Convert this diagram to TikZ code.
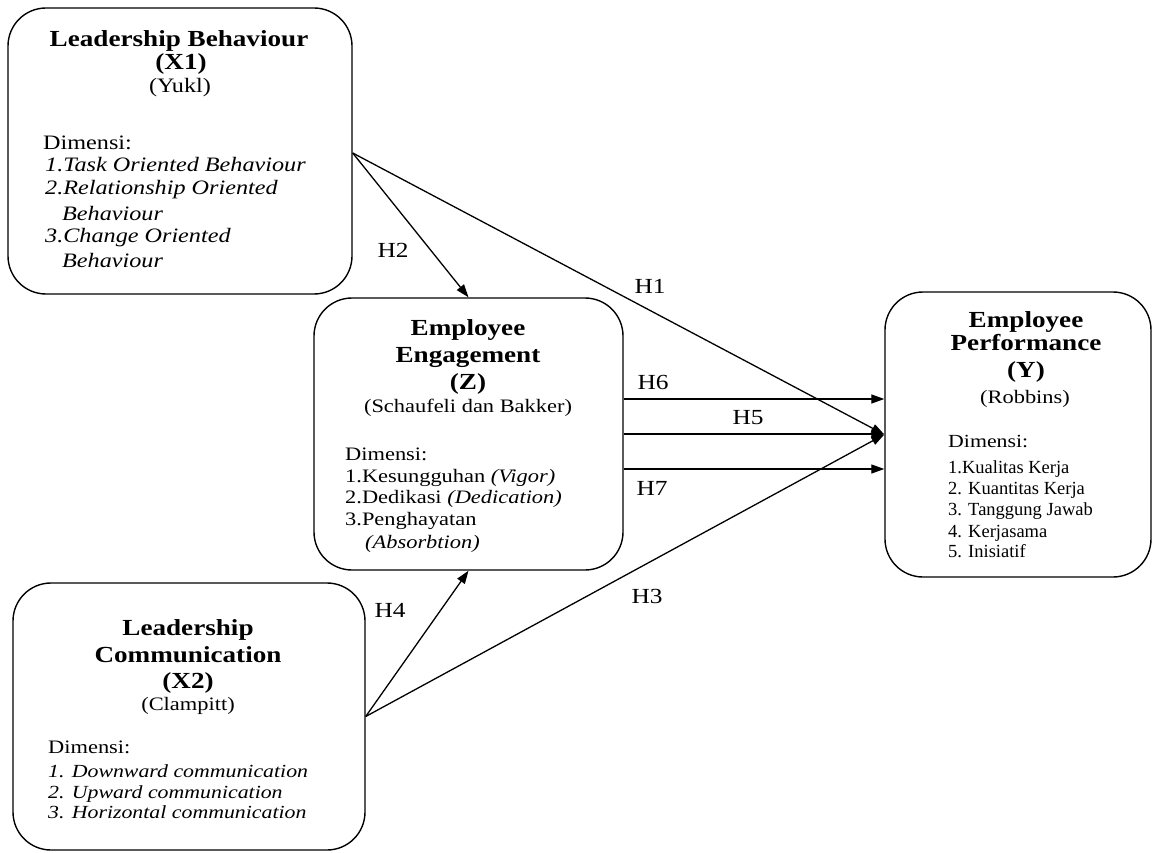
\documentclass[tikz,border=0pt]{standalone}
\usepackage{fontspec}
\setmainfont{Liberation Serif}[FakeStretch=1.18]
\newfontfamily\plainserif{Liberation Serif}
\usetikzlibrary{arrows.meta,calc}

\begin{document}
\begin{tikzpicture}[x=1pt,y=-1pt,
  box/.style={draw, line width=1.4pt, rounded corners=38pt, inner sep=0pt},
  ttl/.style={anchor=base, inner sep=0pt, font=\fontsize{23}{27}\selectfont\bfseries},
  sub/.style={anchor=base, inner sep=0pt, font=\fontsize{19}{23}\selectfont},
  itm/.style={anchor=base west, inner sep=0pt, font=\fontsize{19}{23}\selectfont},
  big/.style={font=\fontsize{20.5}{24}\selectfont},
  small/.style={font=\fontsize{18.5}{22}\selectfont},
  narrow/.style={font=\plainserif\fontsize{18.5}{22}\selectfont},
  hyp/.style={anchor=base, inner sep=0pt, font=\fontsize{21.5}{25}\selectfont},
  link/.style={line width=1.3pt, -{Triangle[length=13pt,width=9pt]}}
]
\useasboundingbox (0,0) rectangle (1154,853);

% ---------- boxes ----------
\node[box, minimum width=344pt, minimum height=286pt] (x1) at (180,151) {};
\node[box, minimum width=309pt, minimum height=272pt] (z)  at (468.5,434) {};
\node[box, minimum width=266pt, minimum height=285pt] (y)  at (1018,434.5) {};
\node[box, minimum width=352pt, minimum height=267pt] (x2) at (189,716.5) {};

% ---------- Leadership Behaviour (X1) ----------
\node[ttl] (x1a) at (179,47) {Leadership Behaviour};
\node[ttl] (x1b) at (181,70) {(X1)};
\node[sub, big] (x1c) at (180,93) {(Yukl)};
\node[itm, big] (x1d) at (43,150) {Dimensi:};
\node[itm, big] (x1e) at (45,172) {\itshape 1.Task Oriented Behaviour};
\node[itm, big] (x1f) at (45,195) {\itshape 2.Relationship Oriented};
\node[itm, big] (x1g) at (62,221) {\itshape Behaviour};
\node[itm, big] (x1h) at (45,243) {\itshape 3.Change Oriented};
\node[itm, big] (x1i) at (62,267) {\itshape Behaviour};

% ---------- Employee Engagement (Z) ----------
\node[ttl] (za) at (468,335) {Employee};
\node[ttl] (zb) at (468,362) {Engagement};
\node[ttl] (zc) at (468,389) {(Z)};
\node[sub] (zd) at (468,412) {(Schaufeli dan Bakker)};
\node[itm] (ze) at (345,460) {Dimensi:};
\node[itm] (zf) at (345,482) {1.Kesungguhan \textit{(Vigor)}};
\node[itm] (zg) at (345,503) {2.Dedikasi \textit{(Dedication)}};
\node[itm] (zh) at (345,525) {3.Penghayatan};
\node[itm] (zi) at (365,548) {\itshape (Absorbtion)};

% ---------- Employee Performance (Y) ----------
\node[ttl] (ya) at (1026,327) {Employee};
\node[ttl] (yb) at (1026,350) {Performance};
\node[ttl] (yc) at (1026,377) {(Y)};
\node[sub] (yd) at (1025,403) {(Robbins)};
\node[itm, small] (ye) at (948,447) {Dimensi:};
\node[itm, narrow] (yf) at (948,473) {1.Kualitas Kerja};
\node[itm, narrow] (yg) at (948,494) {2. Kuantitas Kerja};
\node[itm, narrow] (yh) at (948,515) {3. Tanggung Jawab};
\node[itm, narrow] (yi) at (948,537) {4. Kerjasama};
\node[itm, narrow] (yj) at (948,557) {5. Inisiatif};

% ---------- Leadership Communication (X2) ----------
\node[ttl] (x2a) at (188,635) {Leadership};
\node[ttl] (x2b) at (188,662) {Communication};
\node[ttl] (x2c) at (188,688) {(X2)};
\node[sub] (x2d) at (188,710) {(Clampitt)};
\node[itm] (x2e) at (48,753) {Dimensi:};
\node[itm, small] (x2f) at (48,777) {\itshape 1. Downward communication};
\node[itm, small] (x2g) at (48,798) {\itshape 2. Upward communication};
\node[itm, small] (x2h) at (48,818) {\itshape 3. Horizontal communication};

% ---------- hypothesis paths ----------
\coordinate (x1out) at ($(x1.east)+(0,2)$);
\draw[link] (x1out) -- (z.north);
\draw[link] (x1out) -- (y.west);
\draw[link] ([yshift=35pt]z.east) -- ([yshift=35pt]z.east -| y.west);
\draw[link] (z.east) -- (z.east -| y.west);
\draw[link] ([yshift=-35pt]z.east) -- ([yshift=-35pt]z.east -| y.west);
\draw[link] (x2.east) -- (z.south);
\draw[link] (x2.east) -- (y.west);

% ---------- labels ----------
\node[hyp] (h2) at (393,258) {H2};
\node[hyp] (h1) at (650,293) {H1};
\node[hyp] (h6) at (653,389) {H6};
\node[hyp] (h5) at (748,424) {H5};
\node[hyp] (h7) at (652,495) {H7};
\node[hyp] (h4) at (390,617) {H4};
\node[hyp] (h3) at (647,603) {H3};
\end{tikzpicture}
\end{document}
